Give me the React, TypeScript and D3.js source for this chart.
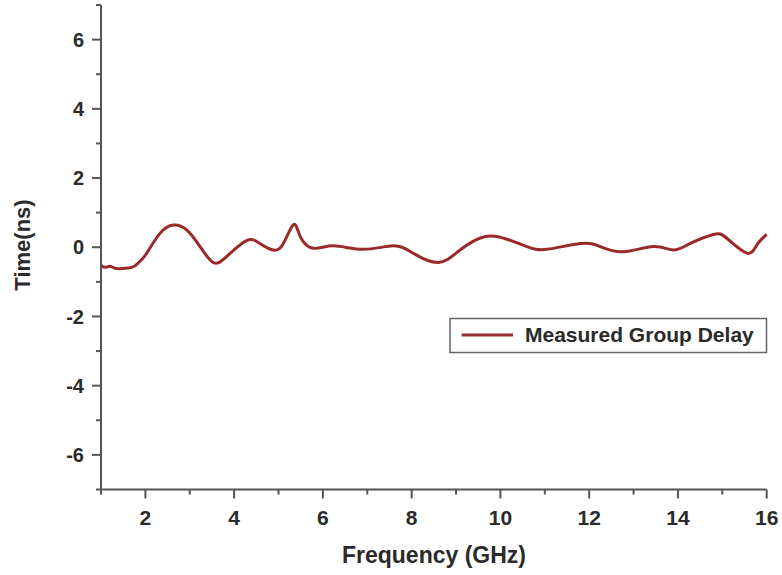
import React from "react";
import * as d3 from "d3";

const freq = [1.0, 1.1, 1.2, 1.3, 1.43, 1.6, 1.75, 1.9, 2.03, 2.33, 2.63, 2.93, 3.23, 3.53, 3.83, 4.28, 4.58, 4.88, 5.11, 5.34, 5.49, 5.79, 6.24, 6.91, 7.59, 8.03, 8.6, 9.09, 9.66, 10.15, 10.6, 11.05, 11.8, 12.25, 12.77, 13.45, 13.9, 14.28, 14.8, 15.1, 15.55, 15.78, 16.0];
const delay = [-0.53, -0.58, -0.55, -0.6, -0.62, -0.6, -0.55, -0.38, -0.17, 0.4, 0.64, 0.5, 0.02, -0.44, -0.27, 0.19, 0.11, -0.08, 0.11, 0.66, 0.31, -0.03, 0.04, -0.06, 0.04, -0.17, -0.44, -0.08, 0.31, 0.23, 0.02, -0.06, 0.11, 0.02, -0.13, 0.02, -0.08, 0.11, 0.37, 0.26, -0.17, 0.07, 0.37];
const xMajor = [2, 4, 6, 8, 10, 12, 14, 16];
const xMinor = [1, 3, 5, 7, 9, 11, 13, 15];
const yMajor = [-6, -4, -2, 0, 2, 4, 6];
const yMinor = [-7, -5, -3, -1, 1, 3, 5, 7];
const seriesName = "Measured Group Delay";

const FONT = "'Liberation Sans', Arial, sans-serif";
const AX = "#555";
const TXT = "#2a2a2a";
const LINE = "#9a2a2a";

export default function App() {
  const W = 782, H = 575;
  const x = d3.scaleLinear().domain([1, 16]).range([101, 766.7]);
  const y = d3.scaleLinear().domain([-7, 7]).range([489.5, 5]);
  const pts = freq.map((f, i) => [f, delay[i]] as [number, number]);
  const line = d3.line<[number, number]>().x(d => x(d[0])).y(d => y(d[1])).curve(d3.curveNatural);
  const x0 = x(1), y0 = y(-7);
  return (
    <svg width={W} height={H} style={{ position: "absolute", left: 0, top: 0, background: "#fff" }}>
      <rect width={W} height={H} fill="#fff" />
      <path d={line(pts) || ""} fill="none" stroke={LINE} strokeWidth={3} strokeLinejoin="round" />
      {/* axes */}
      <line x1={x0} x2={x0} y1={y(7)} y2={y0} stroke={AX} strokeWidth={2} />
      <line x1={x0} x2={x(16)} y1={y0} y2={y0} stroke={AX} strokeWidth={2} />
      {yMajor.map(v => (
        <g key={"ym" + v}>
          <line x1={x0 - 9} x2={x0} y1={y(v)} y2={y(v)} stroke={AX} strokeWidth={2} />
          <text x={x0 - 17} y={y(v)} dy="0.36em" textAnchor="end" fontFamily={FONT} fontWeight="bold" fontSize={20} fill={TXT}>{v}</text>
        </g>
      ))}
      {yMinor.map(v => (
        <line key={"yn" + v} x1={x0 - 5} x2={x0} y1={y(v)} y2={y(v)} stroke={AX} strokeWidth={2} />
      ))}
      {xMajor.map(v => (
        <g key={"xm" + v}>
          <line x1={x(v)} x2={x(v)} y1={y0} y2={y0 + 9} stroke={AX} strokeWidth={2} />
          <text x={x(v)} y={525} textAnchor="middle" fontFamily={FONT} fontWeight="bold" fontSize={21} fill={TXT}>{v}</text>
        </g>
      ))}
      {xMinor.map(v => (
        <line key={"xn" + v} x1={x(v)} x2={x(v)} y1={y0} y2={y0 + 5} stroke={AX} strokeWidth={2} />
      ))}
      <text x={434} y={563} textAnchor="middle" fontFamily={FONT} fontWeight="bold" fontSize={23} fill={TXT}>Frequency (GHz)</text>
      <text transform={`translate(30,245) rotate(-90)`} textAnchor="middle" fontFamily={FONT} fontWeight="bold" fontSize={22} fill={TXT}>Time(ns)</text>
      {/* legend */}
      <rect x={450} y={318.5} width={316.5} height={34} fill="#fff" stroke="#666" strokeWidth={1.5} />
      <line x1={461.7} x2={513} y1={335} y2={335} stroke={LINE} strokeWidth={3} />
      <text x={525} y={342} fontFamily={FONT} fontWeight="bold" fontSize={21} fill={TXT}>{seriesName}</text>
    </svg>
  );
}
